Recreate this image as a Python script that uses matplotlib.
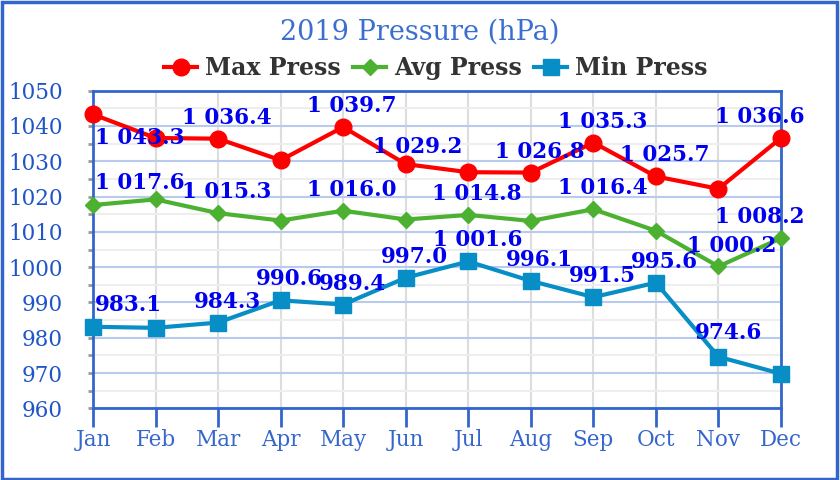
import matplotlib
matplotlib.use("Agg")
import matplotlib.pyplot as plt
from matplotlib.patches import Rectangle
from matplotlib.ticker import MultipleLocator

months = ["Jan", "Feb", "Mar", "Apr", "May", "Jun",
          "Jul", "Aug", "Sep", "Oct", "Nov", "Dec"]
max_press = [1043.3, 1036.6, 1036.4, 1030.3, 1039.7, 1029.2,
             1026.9, 1026.8, 1035.3, 1025.7, 1022.2, 1036.6]
avg_press = [1017.6, 1019.2, 1015.3, 1013.2, 1016.0, 1013.5,
             1014.8, 1013.1, 1016.4, 1010.3, 1000.2, 1008.2]
min_press = [983.1, 982.8, 984.3, 990.6, 989.4, 997.0,
             1001.6, 996.1, 991.5, 995.6, 974.6, 969.8]

# which points get a value label (others hidden, as in the original)
max_shown = [0, 2, 4, 5, 7, 8, 9, 11]
avg_shown = [0, 2, 4, 6, 8, 10, 11]
min_shown = [0, 2, 3, 4, 5, 6, 7, 8, 9, 10]

title_col = "#3a6fd0"
tick_col = "#1f55c8"
label_col = "#0000ee"
frame_col = "#3366cc"

fig = plt.figure(figsize=(8.4, 4.8), dpi=100)
ax = fig.add_axes([93 / 840, 1 - 408.3 / 480, (781 - 93) / 840, (408.3 - 90.7) / 480])

x = list(range(len(months)))
series = [
    ("Max Press", max_press, "#ff0000", "o", 12, max_shown),
    ("Avg Press", avg_press, "#4cb131", "D", 8.5, avg_shown),
    ("Min Press", min_press, "#078ec6", "s", 11, min_shown),
]

for name, vals, col, mk, ms, shown in series:
    ax.plot(x, vals, color=col, lw=3, marker=mk, ms=ms, label=name,
            clip_on=False, zorder=3)

# label offsets in pixels (dx, dy, ha), special cases only
def offset(i):
    if i == 0:
        return 2, 22, "left"
    if i == 11:
        return -21, 21, "center"
    return 9, 21, "center"

special = {("Max Press", 0): (2, -24, "left"),
           ("Max Press", 5): (12, 17, "center"),
           ("Min Press", 10): (10, 24, "center"),
           ("Avg Press", 10): (13, 20, "center")}

for name, vals, col, mk, ms, shown in series:
    for i in shown:
        dx, dy, ha = special.get((name, i), offset(i))
        ax.annotate(f"{vals[i]:,.1f}".replace(",", " "), (x[i], vals[i]),
                    xytext=(dx, dy), textcoords="offset pixels",
                    ha=ha, va="center", fontsize=15.5, fontweight="bold",
                    family="DejaVu Serif", color=label_col, zorder=5,
                    annotation_clip=False)

ax.set_xlim(0, 11)
ax.set_ylim(960, 1050)
ax.set_xticks(x)
ax.set_xticklabels(months)
ax.yaxis.set_major_locator(MultipleLocator(10))
ax.yaxis.set_minor_locator(MultipleLocator(5))

ax.grid(axis="x", color="#dddddd", lw=1.5)
ax.grid(axis="y", which="major", color="#b8cbee", lw=1.5)
ax.grid(axis="y", which="minor", color="#eeeeee", lw=1.5)
ax.set_axisbelow(True)

for s in ax.spines.values():
    s.set_color(frame_col)
    s.set_linewidth(2)

ax.tick_params(axis="x", length=13.5, width=2, color=frame_col, pad=1.5,
               labelsize=15.5, labelcolor="#3566cc")
ax.tick_params(axis="y", which="both", length=3.6, width=2, color="#999999",
               pad=18, labelsize=15.5, labelcolor=tick_col)
for t in ax.get_xticklabels() + ax.get_yticklabels():
    t.set_family("DejaVu Serif")

fig.text(0.5, 0.933, "2019 Pressure (hPa)", ha="center", va="center",
         fontsize=19.5, family="DejaVu Serif", color=title_col)

leg = fig.legend(loc="center", bbox_to_anchor=(0.519, 0.858), ncol=3,
                 frameon=False, handlelength=1.4, handletextpad=0.35,
                 columnspacing=0.5,
                 prop={"family": "DejaVu Serif", "weight": "bold", "size": 17})
for t in leg.get_texts():
    t.set_color("#333333")

fig.patches.append(Rectangle((0.002, 0.003), 0.994, 0.993, transform=fig.transFigure,
                             fill=False, edgecolor=frame_col, lw=2.5))

fig.savefig("out.png", dpi=100)
